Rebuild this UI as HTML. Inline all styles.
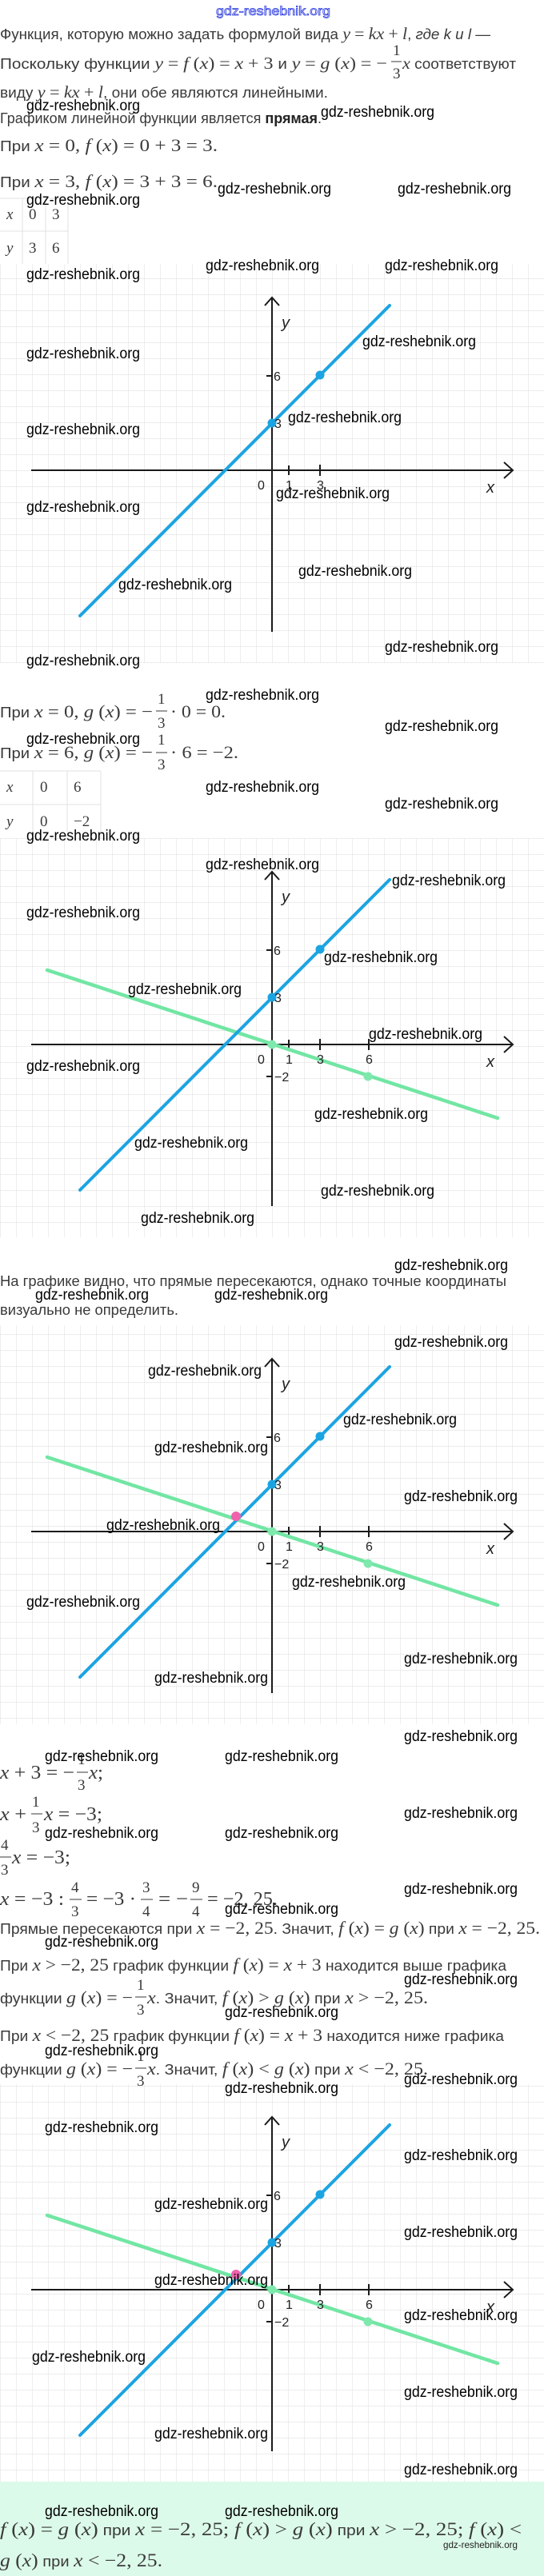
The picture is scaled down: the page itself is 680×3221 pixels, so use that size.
<!DOCTYPE html>
<html><head><meta charset="utf-8"><style>
html,body{margin:0;padding:0;background:#fff;}
svg{display:block;}
.t{font-family:"Liberation Sans",sans-serif;font-size:18px;fill:#3a3a3a;}
.m{font-family:"Liberation Serif",serif;font-style:italic;}
.n{font-family:"Liberation Serif",serif;font-style:normal;}
.e{font-family:"Liberation Serif",serif;font-size:24px;fill:#3a3a3a;}
.w{font-family:"Liberation Sans",sans-serif;font-size:19px;fill:#000;}
.fr{font-family:"Liberation Serif",serif;font-size:19px;fill:#3a3a3a;}
.lb{font-family:"Liberation Sans",sans-serif;font-size:16px;fill:#222;}
.ax{font-family:"Liberation Sans",sans-serif;font-size:20px;font-style:italic;fill:#222;}
</style></head><body>
<svg width="680" height="3221" viewBox="0 0 680 3221" xmlns="http://www.w3.org/2000/svg">
<defs>
<pattern id="gp" x="0" y="8" width="20" height="20" patternUnits="userSpaceOnUse">
<path d="M0 0H20M0 0V20" stroke="#e6e6e6" stroke-width="1.4" fill="none"/>
</pattern>
<g id="axes">
<line x1="39" y1="0" x2="641" y2="0" stroke="#1a1a1a" stroke-width="2"/>
<polyline points="630,-10 641,0 630,10" fill="none" stroke="#1a1a1a" stroke-width="2"/>
<line x1="340" y1="202" x2="340" y2="-216" stroke="#1a1a1a" stroke-width="2"/>
<polyline points="331,-206 340,-216 349,-206" fill="none" stroke="#1a1a1a" stroke-width="2"/>
<line x1="361" y1="-6" x2="361" y2="6" stroke="#1a1a1a" stroke-width="2"/>
<line x1="400" y1="-7" x2="400" y2="7" stroke="#1a1a1a" stroke-width="2"/>
<line x1="333" y1="-118" x2="340" y2="-118" stroke="#1a1a1a" stroke-width="2"/>
</g>
<g id="blue">
<line x1="100" y1="182" x2="487" y2="-206" stroke="#1ca4e2" stroke-width="4" stroke-linecap="round"/>
<circle cx="340" cy="-59" r="5.5" fill="#1ca4e2"/>
<circle cx="400" cy="-119" r="5.5" fill="#1ca4e2"/>
</g>
<g id="green">
<line x1="461" y1="-7" x2="461" y2="7" stroke="#1a1a1a" stroke-width="2"/>
<line x1="333" y1="40" x2="340" y2="40" stroke="#1a1a1a" stroke-width="2"/>
<line x1="59" y1="-93" x2="622" y2="92" stroke="#72e6a4" stroke-width="4.5" stroke-linecap="round"/>
<circle cx="340" cy="0" r="5.5" fill="#7fe9ad"/>
<circle cx="460" cy="40" r="5.5" fill="#7fe9ad"/>
</g>
</defs>

<!-- top watermark -->
<text x="270" y="19" font-family="Liberation Sans,sans-serif" font-size="16" fill="#fff" stroke="#3040e0" stroke-width="0.8" textLength="143" lengthAdjust="spacingAndGlyphs">gdz-reshebnik.org</text>

<!-- Section 1 text -->
<text class="t" x="0" y="49" textLength="613" lengthAdjust="spacingAndGlyphs">Функция, которую можно задать формулой вида <tspan class="m" font-size="21">y</tspan> <tspan class="n" font-size="21">=</tspan> <tspan class="m" font-size="21">kx</tspan> <tspan class="n" font-size="21">+</tspan> <tspan class="m" font-size="21">l</tspan>, <tspan font-style="italic">где k и l</tspan> —</text>
<text class="t" x="0" y="86" textLength="484" lengthAdjust="spacingAndGlyphs">Поскольку функции <tspan class="m" font-size="21">y</tspan> <tspan class="n" font-size="21">=</tspan> <tspan class="m" font-size="21">f</tspan> <tspan class="n" font-size="21">(</tspan><tspan class="m" font-size="21">x</tspan><tspan class="n" font-size="21">)</tspan> <tspan class="n" font-size="21">=</tspan> <tspan class="m" font-size="21">x</tspan> <tspan class="n" font-size="21">+ 3</tspan> и <tspan class="m" font-size="21">y</tspan> <tspan class="n" font-size="21">=</tspan> <tspan class="m" font-size="21">g</tspan> <tspan class="n" font-size="21">(</tspan><tspan class="m" font-size="21">x</tspan><tspan class="n" font-size="21">)</tspan> <tspan class="n" font-size="21">= −</tspan></text>
<text class="fr" x="491" y="69">1</text><line x1="489" y1="77" x2="502" y2="77" stroke="#3a3a3a"/><text class="fr" x="491" y="98">3</text>
<text class="t" x="503" y="86" textLength="142" lengthAdjust="spacingAndGlyphs"><tspan class="m" font-size="21">x</tspan> соответствуют</text>
<text class="t" x="0" y="122" textLength="410" lengthAdjust="spacingAndGlyphs">виду <tspan class="m" font-size="21">y</tspan> <tspan class="n" font-size="21">=</tspan> <tspan class="m" font-size="21">kx</tspan> <tspan class="n" font-size="21">+</tspan> <tspan class="m" font-size="21">l</tspan>, они обе являются линейными.</text>
<text class="t" x="0" y="154" textLength="402" lengthAdjust="spacingAndGlyphs">Графиком линейной функции является <tspan font-weight="bold" fill="#222">прямая</tspan>.</text>
<text class="t" x="0" y="189" textLength="272" lengthAdjust="spacingAndGlyphs">При <tspan class="m" font-size="22">x</tspan><tspan class="n" font-size="22"> = 0,  </tspan><tspan class="m" font-size="22">f</tspan><tspan class="n" font-size="22"> (</tspan><tspan class="m" font-size="22">x</tspan><tspan class="n" font-size="22">) = 0 + 3 = 3.</tspan></text>
<text class="t" x="0" y="234" textLength="272" lengthAdjust="spacingAndGlyphs">При <tspan class="m" font-size="22">x</tspan><tspan class="n" font-size="22"> = 3,  </tspan><tspan class="m" font-size="22">f</tspan><tspan class="n" font-size="22"> (</tspan><tspan class="m" font-size="22">x</tspan><tspan class="n" font-size="22">) = 3 + 3 = 6.</tspan></text>
<g stroke="#e2e2e2" stroke-width="1"><line x1="0" y1="248" x2="85" y2="248"/><line x1="0" y1="289" x2="85" y2="289"/><line x1="28" y1="248" x2="28" y2="330"/><line x1="57" y1="248" x2="57" y2="330"/><line x1="85" y1="248" x2="85" y2="330"/></g>
<g font-family="Liberation Serif,serif" font-size="19" fill="#3a3a3a"><text x="8" y="274" font-style="italic">x</text><text x="36" y="274">0</text><text x="65" y="274">3</text><text x="8" y="316" font-style="italic">y</text><text x="36" y="316">3</text><text x="65" y="316">6</text></g>

<!-- Graph 1 -->
<rect x="0" y="330" width="680" height="499" fill="url(#gp)"/>
<g transform="translate(0,588)"><use href="#axes"/><use href="#blue"/></g>
<g transform="translate(0,588)"><text class="ax" x="352" y="-178">y</text><text class="ax" x="608" y="28">x</text>
<text class="lb" x="322" y="24">0</text><text class="lb" x="357" y="24">1</text><text class="lb" x="396" y="24">3</text><text class="lb" x="342" y="-112">6</text><text class="lb" x="343" y="-53">3</text></g>

<!-- Section 2 text -->
<text class="t" x="0" y="897" textLength="191" lengthAdjust="spacingAndGlyphs">При <tspan class="m" font-size="22">x</tspan><tspan class="n" font-size="22"> = 0,  </tspan><tspan class="m" font-size="22">g</tspan><tspan class="n" font-size="22"> (</tspan><tspan class="m" font-size="22">x</tspan><tspan class="n" font-size="22">) = −</tspan></text>
<text class="fr" x="197" y="880">1</text><line x1="195" y1="889" x2="209" y2="889" stroke="#3a3a3a"/><text class="fr" x="197" y="910">3</text>
<text class="n" x="213" y="897" font-size="22" fill="#3a3a3a" textLength="69" lengthAdjust="spacingAndGlyphs">· 0 = 0.</text>
<text class="t" x="0" y="948" textLength="191" lengthAdjust="spacingAndGlyphs">При <tspan class="m" font-size="22">x</tspan><tspan class="n" font-size="22"> = 6,  </tspan><tspan class="m" font-size="22">g</tspan><tspan class="n" font-size="22"> (</tspan><tspan class="m" font-size="22">x</tspan><tspan class="n" font-size="22">) = −</tspan></text>
<text class="fr" x="197" y="931">1</text><line x1="195" y1="941" x2="209" y2="941" stroke="#3a3a3a"/><text class="fr" x="197" y="962">3</text>
<text class="n" x="213" y="948" font-size="22" fill="#3a3a3a" textLength="85" lengthAdjust="spacingAndGlyphs">· 6 = −2.</text>
<g stroke="#e2e2e2" stroke-width="1"><line x1="0" y1="964" x2="126" y2="964"/><line x1="0" y1="1006" x2="126" y2="1006"/><line x1="41" y1="964" x2="41" y2="1049"/><line x1="84" y1="964" x2="84" y2="1049"/><line x1="126" y1="964" x2="126" y2="1049"/></g>
<g font-family="Liberation Serif,serif" font-size="19" fill="#3a3a3a"><text x="8" y="990" font-style="italic">x</text><text x="50" y="990">0</text><text x="92" y="990">6</text><text x="8" y="1033" font-style="italic">y</text><text x="50" y="1033">0</text><text x="92" y="1033">−2</text></g>

<!-- Graph 2 -->
<rect x="0" y="1048" width="680" height="499" fill="url(#gp)"/>
<g transform="translate(0,1306)"><use href="#axes"/><use href="#green"/><use href="#blue"/></g>
<g transform="translate(0,1306)"><text class="ax" x="352" y="-178">y</text><text class="ax" x="608" y="28">x</text>
<text class="lb" x="322" y="24">0</text><text class="lb" x="357" y="24">1</text><text class="lb" x="396" y="24">3</text><text class="lb" x="457" y="24">6</text><text class="lb" x="342" y="-112">6</text><text class="lb" x="343" y="-53">3</text><text class="lb" x="343" y="46">−2</text></g>

<!-- Section 3 text -->
<text class="t" x="0" y="1608" textLength="633" lengthAdjust="spacingAndGlyphs">На графике видно, что прямые пересекаются, однако точные координаты</text>
<text class="t" x="0" y="1644" textLength="223" lengthAdjust="spacingAndGlyphs">визуально не определить.</text>

<!-- Graph 3 -->
<rect x="0" y="1657" width="680" height="499" fill="url(#gp)"/>
<g transform="translate(0,1915)"><use href="#axes"/><use href="#green"/><use href="#blue"/><circle cx="295" cy="-19" r="6" fill="#ef62ad"/></g>
<g transform="translate(0,1915)"><text class="ax" x="352" y="-178">y</text><text class="ax" x="608" y="28">x</text>
<text class="lb" x="322" y="24">0</text><text class="lb" x="357" y="24">1</text><text class="lb" x="396" y="24">3</text><text class="lb" x="457" y="24">6</text><text class="lb" x="342" y="-112">6</text><text class="lb" x="343" y="-53">3</text><text class="lb" x="343" y="46">−2</text></g>

<!-- Section 4 equations -->
<text class="e" x="0" y="2224" textLength="93" lengthAdjust="spacingAndGlyphs"><tspan font-style="italic">x</tspan> + 3 = −</text>
<text class="fr" x="97" y="2206">1</text><line x1="96" y1="2216" x2="110" y2="2216" stroke="#3a3a3a"/><text class="fr" x="97" y="2238">3</text>
<text class="e" x="111" y="2224" textLength="18" lengthAdjust="spacingAndGlyphs"><tspan font-style="italic">x</tspan>;</text>

<text class="e" x="0" y="2276" textLength="33" lengthAdjust="spacingAndGlyphs"><tspan font-style="italic">x</tspan> +</text>
<text class="fr" x="40" y="2259">1</text><line x1="39" y1="2268" x2="53" y2="2268" stroke="#3a3a3a"/><text class="fr" x="40" y="2291">3</text>
<text class="e" x="55" y="2276" textLength="73" lengthAdjust="spacingAndGlyphs"><tspan font-style="italic">x</tspan> = −3;</text>

<text class="fr" x="1" y="2313">4</text><line x1="0" y1="2322" x2="14" y2="2322" stroke="#3a3a3a"/><text class="fr" x="1" y="2344">3</text>
<text class="e" x="15" y="2330" textLength="73" lengthAdjust="spacingAndGlyphs"><tspan font-style="italic">x</tspan> = −3;</text>

<text class="e" x="0" y="2382" textLength="80" lengthAdjust="spacingAndGlyphs"><tspan font-style="italic">x</tspan> = −3 :</text>
<text class="fr" x="89" y="2366">4</text><line x1="87" y1="2375" x2="102" y2="2375" stroke="#3a3a3a"/><text class="fr" x="89" y="2396">3</text>
<text class="e" x="108" y="2382" textLength="62" lengthAdjust="spacingAndGlyphs">= −3 ·</text>
<text class="fr" x="178" y="2366">3</text><line x1="176" y1="2375" x2="191" y2="2375" stroke="#3a3a3a"/><text class="fr" x="178" y="2396">4</text>
<text class="e" x="198" y="2382" textLength="37" lengthAdjust="spacingAndGlyphs">= −</text>
<text class="fr" x="240" y="2366">9</text><line x1="238" y1="2375" x2="253" y2="2375" stroke="#3a3a3a"/><text class="fr" x="240" y="2396">4</text>
<text class="e" x="259" y="2382" textLength="88" lengthAdjust="spacingAndGlyphs">= −2, 25.</text>

<text class="t" x="0" y="2418" textLength="675" lengthAdjust="spacingAndGlyphs">Прямые пересекаются при <tspan class="m" font-size="22">x</tspan><tspan class="n" font-size="22"> = −2, 25</tspan>. Значит, <tspan class="m" font-size="22">f</tspan><tspan class="n" font-size="22"> (</tspan><tspan class="m" font-size="22">x</tspan><tspan class="n" font-size="22">) = </tspan><tspan class="m" font-size="22">g</tspan><tspan class="n" font-size="22"> (</tspan><tspan class="m" font-size="22">x</tspan><tspan class="n" font-size="22">)</tspan> при <tspan class="m" font-size="22">x</tspan><tspan class="n" font-size="22"> = −2, 25.</tspan></text>
<text class="t" x="0" y="2464" textLength="633" lengthAdjust="spacingAndGlyphs">При <tspan class="m" font-size="22">x</tspan><tspan class="n" font-size="22"> &gt; −2, 25</tspan> график функции <tspan class="m" font-size="22">f</tspan><tspan class="n" font-size="22"> (</tspan><tspan class="m" font-size="22">x</tspan><tspan class="n" font-size="22">) = </tspan><tspan class="m" font-size="22">x</tspan><tspan class="n" font-size="22"> + 3</tspan> находится выше графика</text>
<text class="t" x="0" y="2505" textLength="166" lengthAdjust="spacingAndGlyphs">функции <tspan class="m" font-size="22">g</tspan><tspan class="n" font-size="22"> (</tspan><tspan class="m" font-size="22">x</tspan><tspan class="n" font-size="22">) = −</tspan></text>
<text class="fr" x="171" y="2488">1</text><line x1="169" y1="2497" x2="183" y2="2497" stroke="#3a3a3a"/><text class="fr" x="171" y="2519">3</text>
<text class="t" x="184" y="2505" textLength="351" lengthAdjust="spacingAndGlyphs"><tspan class="m" font-size="22">x</tspan>. Значит, <tspan class="m" font-size="22">f</tspan><tspan class="n" font-size="22"> (</tspan><tspan class="m" font-size="22">x</tspan><tspan class="n" font-size="22">) &gt; </tspan><tspan class="m" font-size="22">g</tspan><tspan class="n" font-size="22"> (</tspan><tspan class="m" font-size="22">x</tspan><tspan class="n" font-size="22">)</tspan> при <tspan class="m" font-size="22">x</tspan><tspan class="n" font-size="22"> &gt; −2, 25.</tspan></text>
<text class="t" x="0" y="2552" textLength="630" lengthAdjust="spacingAndGlyphs">При <tspan class="m" font-size="22">x</tspan><tspan class="n" font-size="22"> &lt; −2, 25</tspan> график функции <tspan class="m" font-size="22">f</tspan><tspan class="n" font-size="22"> (</tspan><tspan class="m" font-size="22">x</tspan><tspan class="n" font-size="22">) = </tspan><tspan class="m" font-size="22">x</tspan><tspan class="n" font-size="22"> + 3</tspan> находится ниже графика</text>
<text class="t" x="0" y="2594" textLength="166" lengthAdjust="spacingAndGlyphs">функции <tspan class="m" font-size="22">g</tspan><tspan class="n" font-size="22"> (</tspan><tspan class="m" font-size="22">x</tspan><tspan class="n" font-size="22">) = −</tspan></text>
<text class="fr" x="171" y="2577">1</text><line x1="169" y1="2586" x2="183" y2="2586" stroke="#3a3a3a"/><text class="fr" x="171" y="2608">3</text>
<text class="t" x="184" y="2594" textLength="351" lengthAdjust="spacingAndGlyphs"><tspan class="m" font-size="22">x</tspan>. Значит, <tspan class="m" font-size="22">f</tspan><tspan class="n" font-size="22"> (</tspan><tspan class="m" font-size="22">x</tspan><tspan class="n" font-size="22">) &lt; </tspan><tspan class="m" font-size="22">g</tspan><tspan class="n" font-size="22"> (</tspan><tspan class="m" font-size="22">x</tspan><tspan class="n" font-size="22">)</tspan> при <tspan class="m" font-size="22">x</tspan><tspan class="n" font-size="22"> &lt; −2, 25.</tspan></text>

<!-- Graph 4 -->
<rect x="0" y="2606" width="680" height="497" fill="url(#gp)"/>
<g transform="translate(0,2863)"><use href="#axes"/><use href="#green"/><use href="#blue"/><circle cx="295" cy="-19" r="6" fill="#ef62ad"/></g>
<g transform="translate(0,2863)"><text class="ax" x="352" y="-178">y</text><text class="ax" x="608" y="28">x</text>
<text class="lb" x="322" y="24">0</text><text class="lb" x="357" y="24">1</text><text class="lb" x="396" y="24">3</text><text class="lb" x="457" y="24">6</text><text class="lb" x="342" y="-112">6</text><text class="lb" x="343" y="-53">3</text><text class="lb" x="343" y="46">−2</text></g>

<!-- Answer box -->
<rect x="0" y="3103" width="680" height="118" fill="#dcfaea"/>
<text class="t" x="0" y="3170" font-size="20" textLength="652" lengthAdjust="spacingAndGlyphs"><tspan class="m" font-size="23">f</tspan><tspan class="n" font-size="23"> (</tspan><tspan class="m" font-size="23">x</tspan><tspan class="n" font-size="23">) = </tspan><tspan class="m" font-size="23">g</tspan><tspan class="n" font-size="23"> (</tspan><tspan class="m" font-size="23">x</tspan><tspan class="n" font-size="23">)</tspan> при <tspan class="m" font-size="23">x</tspan><tspan class="n" font-size="23"> = −2, 25; </tspan><tspan class="m" font-size="23">f</tspan><tspan class="n" font-size="23"> (</tspan><tspan class="m" font-size="23">x</tspan><tspan class="n" font-size="23">) &gt; </tspan><tspan class="m" font-size="23">g</tspan><tspan class="n" font-size="23"> (</tspan><tspan class="m" font-size="23">x</tspan><tspan class="n" font-size="23">)</tspan> при <tspan class="m" font-size="23">x</tspan><tspan class="n" font-size="23"> &gt; −2, 25; </tspan><tspan class="m" font-size="23">f</tspan><tspan class="n" font-size="23"> (</tspan><tspan class="m" font-size="23">x</tspan><tspan class="n" font-size="23">) &lt;</tspan></text>
<text class="t" x="0" y="3209" font-size="20" textLength="203" lengthAdjust="spacingAndGlyphs"><tspan class="m" font-size="23">g</tspan><tspan class="n" font-size="23"> (</tspan><tspan class="m" font-size="23">x</tspan><tspan class="n" font-size="23">)</tspan> при <tspan class="m" font-size="23">x</tspan><tspan class="n" font-size="23"> &lt; −2, 25.</tspan></text>
<text x="554" y="3186" font-family="Liberation Sans,sans-serif" font-size="12" fill="#222" textLength="93" lengthAdjust="spacingAndGlyphs">gdz-reshebnik.org</text>

<!-- Watermarks -->
<g class="w">
<text x="33" y="138" textLength="142" lengthAdjust="spacingAndGlyphs">gdz-reshebnik.org</text>
<text x="401" y="146" textLength="142" lengthAdjust="spacingAndGlyphs">gdz-reshebnik.org</text>
<text x="272" y="242" textLength="142" lengthAdjust="spacingAndGlyphs">gdz-reshebnik.org</text>
<text x="497" y="242" textLength="142" lengthAdjust="spacingAndGlyphs">gdz-reshebnik.org</text>
<text x="33" y="256" textLength="142" lengthAdjust="spacingAndGlyphs">gdz-reshebnik.org</text>
<text x="257" y="338" textLength="142" lengthAdjust="spacingAndGlyphs">gdz-reshebnik.org</text>
<text x="481" y="338" textLength="142" lengthAdjust="spacingAndGlyphs">gdz-reshebnik.org</text>
<text x="33" y="349" textLength="142" lengthAdjust="spacingAndGlyphs">gdz-reshebnik.org</text>
<text x="453" y="433" textLength="142" lengthAdjust="spacingAndGlyphs">gdz-reshebnik.org</text>
<text x="33" y="448" textLength="142" lengthAdjust="spacingAndGlyphs">gdz-reshebnik.org</text>
<text x="360" y="528" textLength="142" lengthAdjust="spacingAndGlyphs">gdz-reshebnik.org</text>
<text x="33" y="543" textLength="142" lengthAdjust="spacingAndGlyphs">gdz-reshebnik.org</text>
<text x="345" y="623" textLength="142" lengthAdjust="spacingAndGlyphs">gdz-reshebnik.org</text>
<text x="33" y="640" textLength="142" lengthAdjust="spacingAndGlyphs">gdz-reshebnik.org</text>
<text x="373" y="720" textLength="142" lengthAdjust="spacingAndGlyphs">gdz-reshebnik.org</text>
<text x="148" y="737" textLength="142" lengthAdjust="spacingAndGlyphs">gdz-reshebnik.org</text>
<text x="481" y="815" textLength="142" lengthAdjust="spacingAndGlyphs">gdz-reshebnik.org</text>
<text x="33" y="832" textLength="142" lengthAdjust="spacingAndGlyphs">gdz-reshebnik.org</text>
<text x="257" y="875" textLength="142" lengthAdjust="spacingAndGlyphs">gdz-reshebnik.org</text>
<text x="481" y="914" textLength="142" lengthAdjust="spacingAndGlyphs">gdz-reshebnik.org</text>
<text x="33" y="930" textLength="142" lengthAdjust="spacingAndGlyphs">gdz-reshebnik.org</text>
<text x="257" y="990" textLength="142" lengthAdjust="spacingAndGlyphs">gdz-reshebnik.org</text>
<text x="481" y="1011" textLength="142" lengthAdjust="spacingAndGlyphs">gdz-reshebnik.org</text>
<text x="33" y="1051" textLength="142" lengthAdjust="spacingAndGlyphs">gdz-reshebnik.org</text>
<text x="257" y="1087" textLength="142" lengthAdjust="spacingAndGlyphs">gdz-reshebnik.org</text>
<text x="490" y="1107" textLength="142" lengthAdjust="spacingAndGlyphs">gdz-reshebnik.org</text>
<text x="33" y="1147" textLength="142" lengthAdjust="spacingAndGlyphs">gdz-reshebnik.org</text>
<text x="405" y="1203" textLength="142" lengthAdjust="spacingAndGlyphs">gdz-reshebnik.org</text>
<text x="160" y="1243" textLength="142" lengthAdjust="spacingAndGlyphs">gdz-reshebnik.org</text>
<text x="461" y="1299" textLength="142" lengthAdjust="spacingAndGlyphs">gdz-reshebnik.org</text>
<text x="33" y="1339" textLength="142" lengthAdjust="spacingAndGlyphs">gdz-reshebnik.org</text>
<text x="393" y="1399" textLength="142" lengthAdjust="spacingAndGlyphs">gdz-reshebnik.org</text>
<text x="168" y="1435" textLength="142" lengthAdjust="spacingAndGlyphs">gdz-reshebnik.org</text>
<text x="401" y="1495" textLength="142" lengthAdjust="spacingAndGlyphs">gdz-reshebnik.org</text>
<text x="176" y="1529" textLength="142" lengthAdjust="spacingAndGlyphs">gdz-reshebnik.org</text>
<text x="493" y="1588" textLength="142" lengthAdjust="spacingAndGlyphs">gdz-reshebnik.org</text>
<text x="44" y="1625" textLength="142" lengthAdjust="spacingAndGlyphs">gdz-reshebnik.org</text>
<text x="268" y="1625" textLength="142" lengthAdjust="spacingAndGlyphs">gdz-reshebnik.org</text>
<text x="493" y="1684" textLength="142" lengthAdjust="spacingAndGlyphs">gdz-reshebnik.org</text>
<text x="185" y="1720" textLength="142" lengthAdjust="spacingAndGlyphs">gdz-reshebnik.org</text>
<text x="429" y="1781" textLength="142" lengthAdjust="spacingAndGlyphs">gdz-reshebnik.org</text>
<text x="193" y="1816" textLength="142" lengthAdjust="spacingAndGlyphs">gdz-reshebnik.org</text>
<text x="505" y="1877" textLength="142" lengthAdjust="spacingAndGlyphs">gdz-reshebnik.org</text>
<text x="133" y="1913" textLength="142" lengthAdjust="spacingAndGlyphs">gdz-reshebnik.org</text>
<text x="365" y="1984" textLength="142" lengthAdjust="spacingAndGlyphs">gdz-reshebnik.org</text>
<text x="33" y="2009" textLength="142" lengthAdjust="spacingAndGlyphs">gdz-reshebnik.org</text>
<text x="505" y="2080" textLength="142" lengthAdjust="spacingAndGlyphs">gdz-reshebnik.org</text>
<text x="193" y="2104" textLength="142" lengthAdjust="spacingAndGlyphs">gdz-reshebnik.org</text>
<text x="505" y="2177" textLength="142" lengthAdjust="spacingAndGlyphs">gdz-reshebnik.org</text>
<text x="56" y="2202" textLength="142" lengthAdjust="spacingAndGlyphs">gdz-reshebnik.org</text>
<text x="281" y="2202" textLength="142" lengthAdjust="spacingAndGlyphs">gdz-reshebnik.org</text>
<text x="505" y="2273" textLength="142" lengthAdjust="spacingAndGlyphs">gdz-reshebnik.org</text>
<text x="56" y="2298" textLength="142" lengthAdjust="spacingAndGlyphs">gdz-reshebnik.org</text>
<text x="281" y="2298" textLength="142" lengthAdjust="spacingAndGlyphs">gdz-reshebnik.org</text>
<text x="505" y="2368" textLength="142" lengthAdjust="spacingAndGlyphs">gdz-reshebnik.org</text>
<text x="281" y="2393" textLength="142" lengthAdjust="spacingAndGlyphs">gdz-reshebnik.org</text>
<text x="56" y="2434" textLength="142" lengthAdjust="spacingAndGlyphs">gdz-reshebnik.org</text>
<text x="505" y="2481" textLength="142" lengthAdjust="spacingAndGlyphs">gdz-reshebnik.org</text>
<text x="281" y="2522" textLength="142" lengthAdjust="spacingAndGlyphs">gdz-reshebnik.org</text>
<text x="56" y="2570" textLength="142" lengthAdjust="spacingAndGlyphs">gdz-reshebnik.org</text>
<text x="505" y="2606" textLength="142" lengthAdjust="spacingAndGlyphs">gdz-reshebnik.org</text>
<text x="281" y="2617" textLength="142" lengthAdjust="spacingAndGlyphs">gdz-reshebnik.org</text>
<text x="56" y="2666" textLength="142" lengthAdjust="spacingAndGlyphs">gdz-reshebnik.org</text>
<text x="505" y="2701" textLength="142" lengthAdjust="spacingAndGlyphs">gdz-reshebnik.org</text>
<text x="193" y="2762" textLength="142" lengthAdjust="spacingAndGlyphs">gdz-reshebnik.org</text>
<text x="505" y="2797" textLength="142" lengthAdjust="spacingAndGlyphs">gdz-reshebnik.org</text>
<text x="193" y="2857" textLength="142" lengthAdjust="spacingAndGlyphs">gdz-reshebnik.org</text>
<text x="505" y="2901" textLength="142" lengthAdjust="spacingAndGlyphs">gdz-reshebnik.org</text>
<text x="40" y="2953" textLength="142" lengthAdjust="spacingAndGlyphs">gdz-reshebnik.org</text>
<text x="505" y="2997" textLength="142" lengthAdjust="spacingAndGlyphs">gdz-reshebnik.org</text>
<text x="193" y="3049" textLength="142" lengthAdjust="spacingAndGlyphs">gdz-reshebnik.org</text>
<text x="505" y="3094" textLength="142" lengthAdjust="spacingAndGlyphs">gdz-reshebnik.org</text>
<text x="56" y="3146" textLength="142" lengthAdjust="spacingAndGlyphs">gdz-reshebnik.org</text>
<text x="281" y="3146" textLength="142" lengthAdjust="spacingAndGlyphs">gdz-reshebnik.org</text>
</g>
</svg>
</body></html>
